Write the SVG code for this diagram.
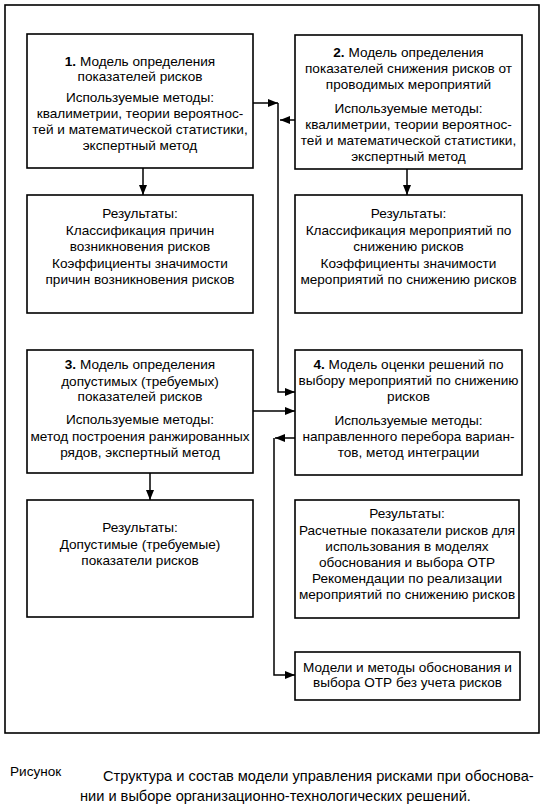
<svg xmlns="http://www.w3.org/2000/svg" width="546" height="807" viewBox="0 0 546 807">
<style>
.box{fill:#fff;stroke:#000;stroke-width:1.6}
.frame{fill:none;stroke:#000;stroke-width:1.6}
.c{fill:none;stroke:#000;stroke-width:1.5}
text{font-family:"Liberation Sans",Arial,sans-serif;font-size:13.6px;fill:#000}
.t{text-anchor:middle}
.cap{font-size:14.6px}
</style>
<defs>
<marker id="ah" viewBox="0 0 10 8" refX="10" refY="4" markerWidth="10" markerHeight="8" markerUnits="userSpaceOnUse" orient="auto">
<path d="M0,0 L10,4 L0,8 Z" fill="#000"/>
</marker>
</defs>
<rect class="frame" x="5" y="5" width="534" height="728"/>
<g id="connectors">
<path class="c" d="M143,168 V195" marker-end="url(#ah)"/>
<path class="c" d="M407,169 V195" marker-end="url(#ah)"/>
<path class="c" d="M150,473 V500" marker-end="url(#ah)"/>
<path class="c" d="M253,103 H278" marker-end="url(#ah)"/>
<path class="c" d="M295,120 H280" marker-end="url(#ah)"/>
<path class="c" d="M278,103 V392 H295" marker-end="url(#ah)"/>
<path class="c" d="M253,411 H295" marker-end="url(#ah)"/>
<path class="c" d="M295,438 H275" marker-end="url(#ah)"/>
<path class="c" d="M274,438 V675 H295" marker-end="url(#ah)"/>
</g>
<g id="n1">
<rect class="box" x="27" y="34" width="226" height="134"/>
<text class="t" x="140" y="66"><tspan font-weight="bold">1.</tspan> Модель определения</text>
<text class="t" x="140" y="81">показателей рисков</text>
<text class="t" x="140" y="102">Используемые методы:</text>
<text class="t" x="140" y="118">квалиметрии, теории вероятнос-</text>
<text class="t" x="140" y="134">тей и математической статистики,</text>
<text class="t" x="140" y="150">экспертный метод</text>
</g>
<g id="r1">
<rect class="box" x="27" y="195" width="226" height="118"/>
<text class="t" x="140" y="218">Результаты:</text>
<text class="t" x="140" y="235">Классификация причин</text>
<text class="t" x="140" y="251">возникновения рисков</text>
<text class="t" x="140" y="268">Коэффициенты значимости</text>
<text class="t" x="140" y="284">причин возникновения рисков</text>
</g>
<g id="n2">
<rect class="box" x="295" y="35" width="227" height="134"/>
<text class="t" x="408.5" y="57"><tspan font-weight="bold">2.</tspan> Модель определения</text>
<text class="t" x="408.5" y="73">показателей снижения рисков от</text>
<text class="t" x="408.5" y="89">проводимых мероприятий</text>
<text class="t" x="408.5" y="113">Используемые методы:</text>
<text class="t" x="408.5" y="129">квалиметрии, теории вероятнос-</text>
<text class="t" x="408.5" y="145">тей и математической статистики,</text>
<text class="t" x="408.5" y="161">экспертный метод</text>
</g>
<g id="r2">
<rect class="box" x="295" y="195" width="227" height="118"/>
<text class="t" x="408.5" y="218">Результаты:</text>
<text class="t" x="408.5" y="235">Классификация мероприятий по</text>
<text class="t" x="408.5" y="251">снижению рисков</text>
<text class="t" x="408.5" y="268">Коэффициенты значимости</text>
<text class="t" x="408.5" y="284">мероприятий по снижению рисков</text>
</g>
<g id="n3">
<rect class="box" x="27" y="350" width="226" height="123"/>
<text class="t" x="140" y="369"><tspan font-weight="bold">3.</tspan> Модель определения</text>
<text class="t" x="140" y="386">допустимых (требуемых)</text>
<text class="t" x="140" y="401">показателей рисков</text>
<text class="t" x="140" y="424">Используемые методы:</text>
<text class="t" x="140" y="441">метод построения ранжированных</text>
<text class="t" x="140" y="457">рядов, экспертный метод</text>
</g>
<g id="r3">
<rect class="box" x="27" y="500" width="226" height="117"/>
<text class="t" x="140" y="532">Результаты:</text>
<text class="t" x="140" y="549">Допустимые (требуемые)</text>
<text class="t" x="140" y="565">показатели рисков</text>
</g>
<g id="n4">
<rect class="box" x="295" y="350" width="227" height="125"/>
<text class="t" x="408.5" y="369"><tspan font-weight="bold">4.</tspan> Модель оценки решений по</text>
<text class="t" x="408.5" y="385">выбору мероприятий по снижению</text>
<text class="t" x="408.5" y="401">рисков</text>
<text class="t" x="408.5" y="425">Используемые методы:</text>
<text class="t" x="408.5" y="441">направленного перебора вариан-</text>
<text class="t" x="408.5" y="457">тов, метод интеграции</text>
</g>
<g id="r4">
<rect class="box" x="295" y="500" width="224" height="118"/>
<text class="t" x="407" y="518">Результаты:</text>
<text class="t" x="407" y="535">Расчетные показатели рисков для</text>
<text class="t" x="407" y="551">использования в моделях</text>
<text class="t" x="407" y="567">обоснования и выбора ОТР</text>
<text class="t" x="407" y="583">Рекомендации по реализации</text>
<text class="t" x="407" y="599">мероприятий по снижению рисков</text>
</g>
<g id="n5">
<rect class="box" x="295" y="652" width="225" height="48"/>
<text class="t" x="407.5" y="672">Модели и методы обоснования и</text>
<text class="t" x="407.5" y="687">выбора ОТР без учета рисков</text>
</g>
<g id="caption">
<text x="10" y="776" font-size="13px">Рисунок</text>
<text class="cap" x="103" y="781">Структура и состав модели управления рисками при обоснова-</text>
<text class="cap" x="80" y="801">нии и выборе организационно-технологических решений.</text>
</g>
</svg>
